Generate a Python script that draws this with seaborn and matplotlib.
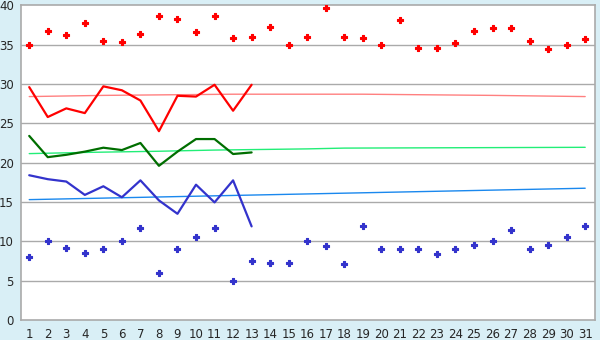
import matplotlib
matplotlib.use("Agg")
import matplotlib.pyplot as plt
import seaborn as sns
import pandas as pd

days = list(range(1, 32))
max_pts = [35.0, 36.7, 36.2, 37.8, 35.5, 35.3, 36.3, 38.6, 38.3, 36.6, 38.7, 35.8, 36.0, 37.2, 34.9,
           36.0, 39.6, 36.0, 35.8, 35.0, 38.1, 34.6, 34.6, 35.2, 36.7, 37.1, 37.1, 35.5, 34.4, 35.0, 35.7]
min_pts = [8.0, 10.0, 9.1, 8.5, 9.0, 10.0, 11.65, 6.0, 9.0, 10.6, 11.65, 5.0, 7.45, 7.2, 7.3,
           10.0, 9.4, 7.1, 12.0, 9.0, 9.0, 9.0, 8.35, 9.0, 9.5, 10.0, 11.4, 9.0, 9.5, 10.5, 12.0]
line_days = list(range(1, 14))
red_line = [29.6, 25.8, 26.9, 26.3, 29.7, 29.2, 27.9, 24.0, 28.5, 28.4, 29.9, 26.6, 29.9]
green_line = [23.4, 20.7, 21.0, 21.4, 21.9, 21.6, 22.5, 19.6, 21.4, 23.0, 23.0, 21.1, 21.3]
blue_line = [18.4, 17.9, 17.6, 15.9, 17.0, 15.6, 17.75, 15.2, 13.5, 17.2, 14.95, 17.75, 11.9]
red_trend_days = [1, 5, 12, 19, 26, 31]
red_trend = [28.4, 28.55, 28.7, 28.7, 28.55, 28.4]
green_trend_days = [1, 4, 8, 11, 16, 18, 31]
green_trend = [21.15, 21.3, 21.45, 21.6, 21.75, 21.85, 21.95]
blue_trend_days = [1, 31]
blue_trend = [15.3, 16.75]

sns.set_style("white")
fig = plt.figure(figsize=(6, 3.4), dpi=100, facecolor="#d9eff6")
ax = fig.add_axes([0.0345, 0.0588, 0.9575, 0.9256])
ax.set_facecolor("white")

for y in range(5, 40, 5):
    ax.axhline(y, color="#aaaaaa", lw=1.0, zorder=0)

sns.lineplot(x=red_trend_days, y=red_trend, ax=ax, color="#ff8080", lw=1.0, zorder=1)
sns.lineplot(x=green_trend_days, y=green_trend, ax=ax, color="#22ee77", lw=1.0, zorder=1)
sns.lineplot(x=blue_trend_days, y=blue_trend, ax=ax, color="#1a88ee", lw=1.0, zorder=1)

sns.lineplot(x=line_days, y=red_line, ax=ax, color="#ff0000", lw=1.6, zorder=2)
sns.lineplot(x=line_days, y=green_line, ax=ax, color="#006e00", lw=1.6, zorder=2)
sns.lineplot(x=line_days, y=blue_line, ax=ax, color="#3333cc", lw=1.6, zorder=2)

sns.scatterplot(x=days, y=max_pts, ax=ax, color="#ff0000", marker="P", s=16,
                edgecolor="#ff0000", linewidth=0.8, zorder=3)
sns.scatterplot(x=days, y=min_pts, ax=ax, color="#3333cc", marker="P", s=16,
                edgecolor="#3333cc", linewidth=0.8, zorder=3)

ax.set_xlim(0.54, 31.54)
ax.set_ylim(0, 40)
ax.set_xticks(days)
ax.set_yticks(range(0, 41, 5))
ax.tick_params(axis="both", direction="out", length=4, width=1, color="black", labelsize=8.5, pad=2)
ax.tick_params(axis="y", length=3)
for s in ax.spines.values():
    s.set_color("#aaaaaa")
    s.set_linewidth(1.2)
ax.set_xlabel("")
ax.set_ylabel("")

fig.savefig("out.png", dpi=100, facecolor=fig.get_facecolor())
